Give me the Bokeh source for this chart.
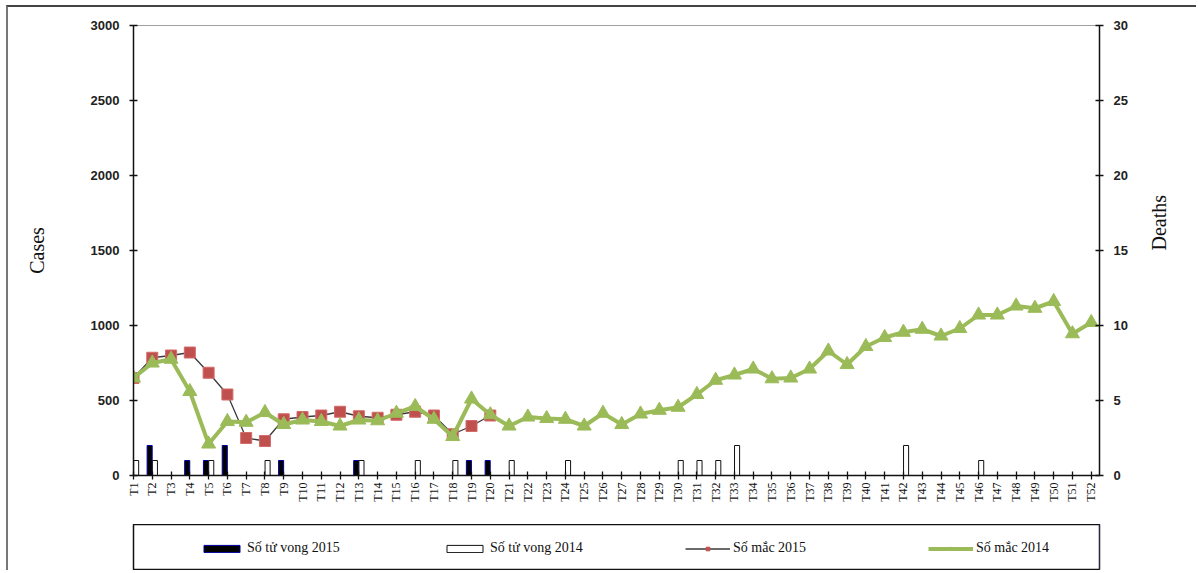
import math
from bokeh.plotting import figure
from bokeh.models import Range1d, LinearAxis, FixedTicker, Legend, LegendItem
from bokeh.layouts import column
from bokeh.embed import file_html
from bokeh.resources import INLINE

weeks = [f"T{i}" for i in range(1, 53)]
cases_2015 = [650, 785, 800, 820, 685, 540, 250, 230, 375, 390,
              400, 425, 395, 385, 405, 425, 400, 275, 330, 400]
cases_2014 = [650, 750, 775, 560, 210, 360, 355, 420, 340, 370,
              360, 330, 370, 365, 415, 460, 375, 260, 510, 405,
              330, 390, 380, 375, 330, 415, 340, 410, 435, 455,
              540, 635, 670, 710, 645, 650, 710, 830, 740, 860,
              920, 955, 975, 930, 980, 1070, 1070, 1130, 1115, 1160,
              945, 1020]
deaths_2015 = [0, 2, 0, 1, 1, 2, 0, 0, 1, 0,
               0, 0, 1, 0, 0, 0, 0, 0, 1, 1]
deaths_2014 = [1, 1, 0, 0, 1, 0, 0, 1, 0, 0,
               0, 0, 1, 0, 0, 1, 0, 1, 0, 0,
               1, 0, 0, 1, 0, 0, 0, 0, 0, 1,
               1, 1, 2, 0, 0, 0, 0, 0, 0, 0,
               0, 2, 0, 0, 0, 1, 0, 0, 0, 0,
               0, 0]
case_ticks = [0, 500, 1000, 1500, 2000, 2500, 3000]
death_ticks = [0, 5, 10, 15, 20, 25, 30]
legend_labels = ["Số tử vong 2015", "Số tử vong 2014", "Số mắc 2015", "Số mắc 2014"]

x15 = list(range(1, len(cases_2015) + 1))
x14 = list(range(1, len(cases_2014) + 1))

GREEN = "#9BBB59"
RED = "#C0504D"

p = figure(width=1188, height=517, x_range=Range1d(1, 52.44), y_range=Range1d(0, 3000),
           output_backend="svg", toolbar_location=None,
           min_border_left=125, min_border_right=97, min_border_top=18, min_border_bottom=49)
p.extra_y_ranges = {"deaths": Range1d(0, 30)}
p.xgrid.visible = False
p.ygrid.visible = False
p.outline_line_color = "#A0A0A0"
p.outline_line_width = 1

p.yaxis.ticker = FixedTicker(ticks=case_ticks)
p.xaxis.ticker = FixedTicker(ticks=x14)
p.xaxis.major_label_overrides = {i: w for i, w in zip(x14, weeks)}
p.xaxis.major_label_orientation = math.pi / 2

rax = LinearAxis(y_range_name="deaths", ticker=FixedTicker(ticks=death_ticks))
p.add_layout(rax, "right")

for ax in [p.xaxis[0], p.yaxis[0], rax]:
    ax.axis_line_color = "#111111"
    ax.axis_line_width = 1.5
    ax.major_tick_line_color = "#111111"
    ax.major_tick_line_width = 1.3
    ax.major_tick_in = 4
    ax.major_tick_out = 4
    ax.minor_tick_line_color = None
for ax in [p.yaxis[0], rax]:
    ax.major_label_text_font = "Liberation Sans"
    ax.major_label_text_font_style = "bold"
    ax.major_label_text_font_size = "13px"
    ax.major_label_text_color = "#222222"
    ax.major_label_standoff = 10
    ax.axis_label_text_font = "Liberation Serif"
    ax.axis_label_text_font_style = "normal"
    ax.axis_label_text_font_size = "20px"
    ax.axis_label_text_color = "#111111"
p.yaxis[0].axis_label = "Cases"
p.yaxis[0].axis_label_standoff = 40
rax.axis_label = "Deaths"
rax.axis_label_standoff = 28
rax.axis_label_orientation = math.pi / 2
rax.axis_label_text_align = "right"
p.xaxis[0].major_label_text_font = "Liberation Serif"
p.xaxis[0].major_label_text_font_size = "12px"
p.xaxis[0].major_label_text_color = "#111111"
p.xaxis[0].major_label_standoff = 3

# death bars
bx15 = [x - 0.14 for x, d in zip(x15, deaths_2015) if d > 0]
bt15 = [d for d in deaths_2015 if d > 0]
bx14 = [x + 0.14 for x, d in zip(x14, deaths_2014) if d > 0]
bt14 = [d for d in deaths_2014 if d > 0]
p.vbar(x=bx15, top=bt15, width=0.27, y_range_name="deaths",
       fill_color="black", line_color="#0000A0", line_width=1)
p.vbar(x=bx14, top=bt14, width=0.27, y_range_name="deaths",
       fill_color="white", line_color="#111111", line_width=1)

# case lines
p.line(x15, cases_2015, line_color="#3A3A3A", line_width=1.3)
p.scatter(x15, cases_2015, marker="square", size=11, fill_color=RED, line_color="#D46A6A", line_width=1)
p.line(x14, cases_2014, line_color=GREEN, line_width=4)
p.scatter(x14, cases_2014, marker="triangle", size=14, fill_color=GREEN, line_color=GREEN, line_width=1)

# legend box (frame of a second figure)
p2 = figure(width=1188, height=46, x_range=Range1d(0, 1), y_range=Range1d(0, 1),
            output_backend="svg", toolbar_location=None,
            min_border_left=109, min_border_right=59, min_border_top=0, min_border_bottom=0,
            x_axis_type=None, y_axis_type=None)
p2.grid.visible = False
p2.outline_line_color = "#111111"
p2.outline_line_width = 1.5
r1 = p2.vbar(x=[10], top=[1], width=0.1, fill_color="black", line_color="#0000A0")
r2 = p2.vbar(x=[10], top=[1], width=0.1, fill_color="white", line_color="#111111")
r3a = p2.line(x=[10, 11], y=[10, 10], line_color="#3A3A3A", line_width=1.3)
r3b = p2.scatter(x=[10], y=[10], marker="square", size=8, fill_color=RED, line_color=RED)
r4a = p2.line(x=[10, 11], y=[10, 10], line_color=GREEN, line_width=4)
r4b = p2.scatter(x=[10], y=[10], marker="triangle", size=8, fill_color=GREEN, line_color=GREEN)
legend = Legend(items=[LegendItem(label=legend_labels[0], renderers=[r1]),
                       LegendItem(label=legend_labels[1], renderers=[r2]),
                       LegendItem(label=legend_labels[2], renderers=[r3a, r3b]),
                       LegendItem(label=legend_labels[3], renderers=[r4a, r4b])],
                orientation="horizontal", location=(61, 9), border_line_alpha=0,
                background_fill_alpha=0, padding=5, spacing=45, glyph_width=45, glyph_height=9,
                label_width=150, label_standoff=3, label_text_font="Liberation Serif",
                label_text_font_size="14px", label_text_color="#111111", margin=0)
p2.add_layout(legend)

inner = column(p, p2, spacing=0,
               styles={"border-top": "2px solid #444444", "border-left": "2px solid #777777"})
layout = column(inner, margin=(5, 0, 0, 6))
open("out.html", "w").write(file_html(layout, INLINE))
